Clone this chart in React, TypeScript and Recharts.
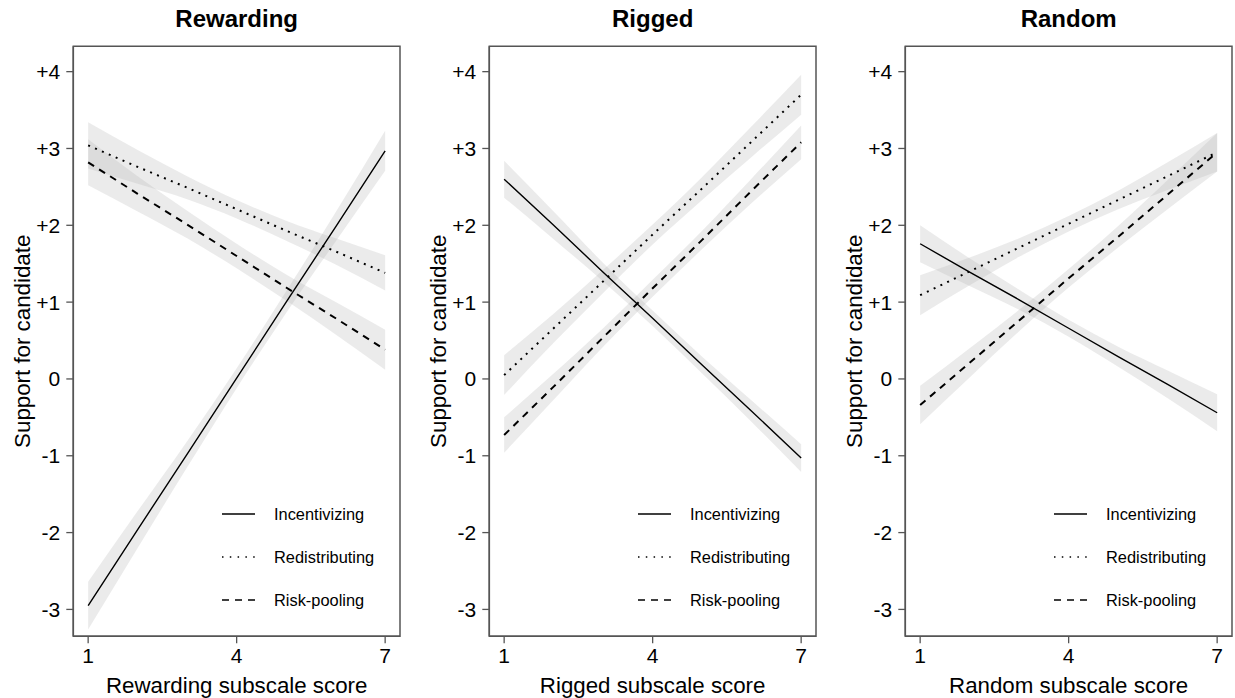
import {
  ComposedChart,
  Area,
  Line,
  XAxis,
  YAxis,
  Legend,
  ReferenceArea,
} from "recharts";

// x positions (subscale score) where the fitted lines and 95% bands were read
const xs = [1, 2, 3, 4, 5, 6, 7];
const yTicks = [-3, -2, -1, 0, 1, 2, 3, 4];
const xTicks = [1, 4, 7];
const xDomain = [0.7, 7.3];
const yDomain = [-3.35, 4.33];

// Rewarding panel
const rewIncFit = [-2.95, -1.96, -0.98, 0.01, 1.0, 1.98, 2.97];
const rewIncLo = [-3.26, -2.2, -1.15, -0.12, 0.86, 1.79, 2.71];
const rewIncHi = [-2.64, -1.72, -0.81, 0.14, 1.14, 2.17, 3.23];
const rewRedFit = [3.04, 2.76, 2.49, 2.21, 1.93, 1.66, 1.38];
const rewRedLo = [2.74, 2.54, 2.34, 2.09, 1.8, 1.49, 1.15];
const rewRedHi = [3.34, 2.98, 2.64, 2.33, 2.06, 1.83, 1.61];
const rewRiskFit = [2.82, 2.41, 2.01, 1.6, 1.19, 0.79, 0.38];
const rewRiskLo = [2.52, 2.18, 1.83, 1.44, 1.02, 0.58, 0.12];
const rewRiskHi = [3.12, 2.64, 2.19, 1.76, 1.36, 1.0, 0.64];

// Rigged panel
const rigIncFit = [2.6, 2.0, 1.39, 0.79, 0.18, -0.42, -1.03];
const rigIncLo = [2.36, 1.82, 1.27, 0.69, 0.07, -0.56, -1.21];
const rigIncHi = [2.84, 2.18, 1.51, 0.89, 0.29, -0.28, -0.85];
const rigRedFit = [0.05, 0.66, 1.27, 1.88, 2.48, 3.09, 3.7];
const rigRedLo = [-0.21, 0.47, 1.12, 1.75, 2.33, 2.89, 3.44];
const rigRedHi = [0.31, 0.85, 1.42, 2.01, 2.63, 3.29, 3.96];
const rigRiskFit = [-0.73, -0.1, 0.54, 1.18, 1.81, 2.45, 3.08];
const rigRiskLo = [-0.96, -0.27, 0.42, 1.07, 1.69, 2.29, 2.86];
const rigRiskHi = [-0.5, 0.07, 0.66, 1.29, 1.93, 2.61, 3.3];

// Random panel
const ranIncFit = [1.76, 1.39, 1.03, 0.66, 0.29, -0.07, -0.44];
const ranIncLo = [1.52, 1.21, 0.9, 0.55, 0.16, -0.25, -0.68];
const ranIncHi = [2.0, 1.57, 1.16, 0.77, 0.42, 0.11, -0.2];
const ranRedFit = [1.09, 1.4, 1.71, 2.02, 2.33, 2.64, 2.95];
const ranRedLo = [0.83, 1.22, 1.59, 1.92, 2.21, 2.46, 2.7];
const ranRedHi = [1.35, 1.58, 1.83, 2.12, 2.45, 2.82, 3.2];
const ranRiskFit = [-0.34, 0.21, 0.76, 1.31, 1.85, 2.4, 2.95];
const ranRiskLo = [-0.59, 0.02, 0.62, 1.19, 1.71, 2.21, 2.7];
const ranRiskHi = [-0.09, 0.4, 0.9, 1.43, 1.99, 2.59, 3.2];

const FONT = '"Liberation Sans", Arial, sans-serif';
const FRAME = "#555";
const BAND = "#b4b4b4";

const CHART_W = 416;
const CHART_H = 698;
const Y_AXIS_W = 73.3;

const seriesStyles = [
  { key: "inc", name: "Incentivizing", dash: undefined, width: 1.4 },
  { key: "red", name: "Redistributing", dash: "2 5.5", width: 2 },
  { key: "risk", name: "Risk-pooling", dash: "7 6", width: 2 },
];

function buildRows(inc: number[][], red: number[][], risk: number[][]) {
  return xs.map((x, i) => ({
    x,
    inc: inc[0][i],
    incBand: [inc[1][i], inc[2][i]],
    red: red[0][i],
    redBand: [red[1][i], red[2][i]],
    risk: risk[0][i],
    riskBand: [risk[1][i], risk[2][i]],
  }));
}

const panels = [
  {
    title: "Rewarding",
    xLabel: "Rewarding subscale score",
    rows: buildRows(
      [rewIncFit, rewIncLo, rewIncHi],
      [rewRedFit, rewRedLo, rewRedHi],
      [rewRiskFit, rewRiskLo, rewRiskHi]
    ),
  },
  {
    title: "Rigged",
    xLabel: "Rigged subscale score",
    rows: buildRows(
      [rigIncFit, rigIncLo, rigIncHi],
      [rigRedFit, rigRedLo, rigRedHi],
      [rigRiskFit, rigRiskLo, rigRiskHi]
    ),
  },
  {
    title: "Random",
    xLabel: "Random subscale score",
    rows: buildRows(
      [ranIncFit, ranIncLo, ranIncHi],
      [ranRedFit, ranRedLo, ranRedHi],
      [ranRiskFit, ranRiskLo, ranRiskHi]
    ),
  },
];

function fmtY(v: number) {
  return v > 0 ? `+${v}` : `${v}`;
}

function LegendBox() {
  return (
    <div style={{ fontFamily: FONT, fontSize: 16.4, color: "#000" }}>
      {seriesStyles.map((s) => (
        <div key={s.key} style={{ display: "flex", alignItems: "center", height: 43 }}>
          <svg width={33} height={4} style={{ marginRight: 19 }}>
            <line
              x1={0}
              y1={2}
              x2={33}
              y2={2}
              stroke="#000"
              strokeWidth={s.key === "inc" ? 1.6 : 1.5}
              strokeDasharray={s.key === "red" ? "1.5 6.3" : s.key === "risk" ? "7 6" : undefined}
            />
          </svg>
          <span>{s.name}</span>
        </div>
      ))}
    </div>
  );
}

function Panel({ title, xLabel, rows }: { title: string; xLabel: string; rows: any[] }) {
  return (
    <div style={{ position: "relative", width: CHART_W, height: CHART_H, flex: "0 0 auto" }}>
      <div
        style={{
          position: "absolute",
          left: Y_AXIS_W,
          width: CHART_W - Y_AXIS_W - 16,
          top: 7,
          lineHeight: "24px",
          textAlign: "center",
          fontFamily: FONT,
          fontWeight: "bold",
          fontSize: 24,
          color: "#000",
        }}
      >
        {title}
      </div>
      <ComposedChart
        width={CHART_W}
        height={CHART_H}
        data={rows}
        margin={{ top: 46.3, right: 16, left: 0, bottom: 0 }}
        style={{ fontFamily: FONT }}
      >
        <XAxis
          type="number"
          dataKey="x"
          domain={xDomain}
          ticks={xTicks}
          allowDataOverflow
          height={61.7}
          tickSize={7}
          tickMargin={5}
          axisLine={{ stroke: FRAME, strokeWidth: 1.5 }}
          tickLine={{ stroke: FRAME, strokeWidth: 1.3 }}
          tick={{ fontSize: 21, fill: "#000" }}
          label={{ value: xLabel, position: "insideBottom", offset: 5, style: { fontSize: 22.3, fill: "#000" } }}
        />
        <YAxis
          type="number"
          domain={yDomain}
          ticks={yTicks}
          allowDataOverflow
          width={Y_AXIS_W}
          tickSize={7}
          tickMargin={6}
          tickFormatter={fmtY}
          axisLine={{ stroke: FRAME, strokeWidth: 1.5 }}
          tickLine={{ stroke: FRAME, strokeWidth: 1.3 }}
          tick={{ fontSize: 21, fill: "#000" }}
          label={{
            value: "Support for candidate",
            angle: -90,
            position: "insideLeft",
            offset: 22,
            style: { textAnchor: "middle", fontSize: 22.3, fill: "#000" },
          }}
        />
        {seriesStyles.map((s) => (
          <Area
            key={`${s.key}Band`}
            type="monotone"
            dataKey={`${s.key}Band`}
            stroke="none"
            fill={BAND}
            fillOpacity={0.27}
            isAnimationActive={false}
            activeDot={false}
            legendType="none"
          />
        ))}
        {seriesStyles.map((s) => (
          <Line
            key={s.key}
            type="linear"
            dataKey={s.key}
            name={s.name}
            stroke="#000"
            strokeWidth={s.width}
            strokeDasharray={s.dash}
            dot={false}
            activeDot={false}
            isAnimationActive={false}
          />
        ))}
        {/* box around the plotting region */}
        <ReferenceArea
          x1={xDomain[0]}
          x2={xDomain[1]}
          y1={yDomain[0]}
          y2={yDomain[1]}
          fill="none"
          fillOpacity={0}
          stroke={FRAME}
          strokeWidth={1.5}
          ifOverflow="visible"
        />
        <Legend
          layout="vertical"
          align="center"
          verticalAlign="middle"
          content={() => <LegendBox />}
          wrapperStyle={{ left: 222, top: 492.8, width: 170 }}
        />
      </ComposedChart>
    </div>
  );
}

export default function App() {
  return (
    <div
      style={{
        position: "absolute",
        left: 0,
        top: 0,
        width: 1235,
        height: 698,
        overflow: "hidden",
        background: "#fff",
        display: "flex",
      }}
    >
      {panels.map((p) => (
        <Panel key={p.title} title={p.title} xLabel={p.xLabel} rows={p.rows} />
      ))}
    </div>
  );
}
